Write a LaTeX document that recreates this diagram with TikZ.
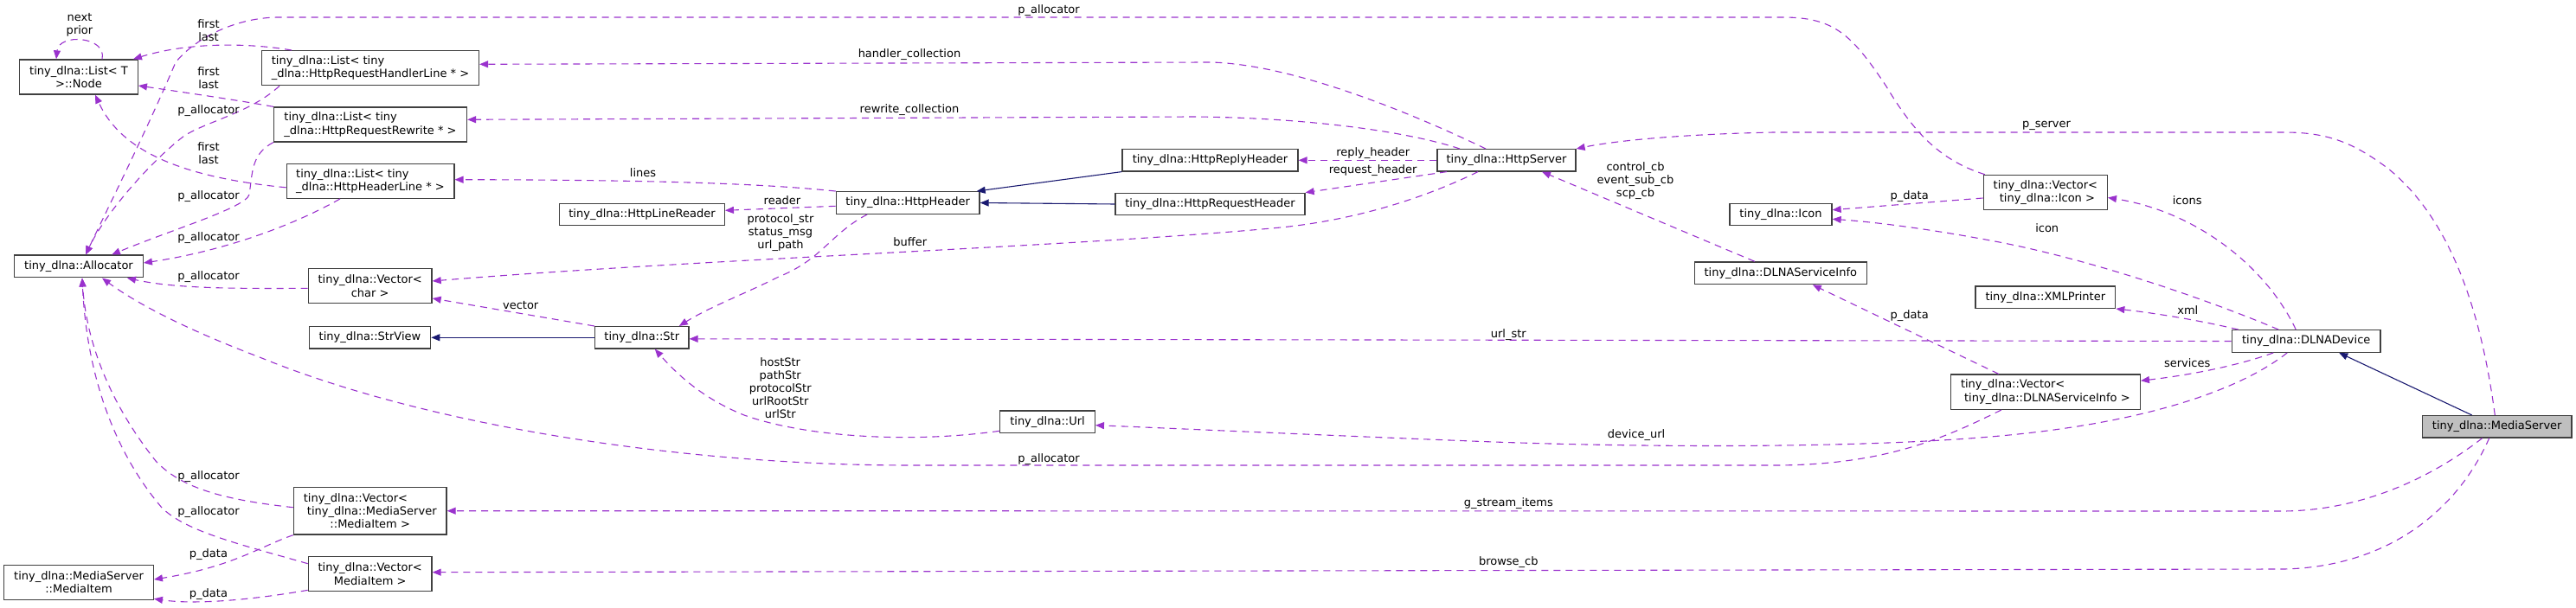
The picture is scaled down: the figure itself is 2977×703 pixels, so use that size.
\documentclass[tikz,border=0pt]{standalone}
\usepackage{fontspec}
\setmainfont{DejaVu Sans}
\usetikzlibrary{arrows.meta}
\definecolor{usec}{HTML}{9A32CD}
\definecolor{inhc}{HTML}{191970}
\definecolor{msfill}{HTML}{BFBFBF}
\begin{document}
\begin{tikzpicture}[x=1pt,y=-1pt,
  cls/.style={draw=black!75, line width=1.3pt, fill=white, inner sep=0pt, align=center, font=\fontsize{13}{15.3}\selectfont},
  lbl/.style={inner sep=0pt, align=center, text=black, font=\fontsize{13}{15}\selectfont},
  usedge/.style={draw=usec, line width=1.1pt, dash pattern=on 8pt off 6pt, -{Triangle[length=10pt,width=8pt]}},
  inhedge/.style={draw=inhc, line width=1.1pt, -{Triangle[length=10pt,width=8pt]}}]
\useasboundingbox (0,0) rectangle (2977,703);
% ---------- classes ----------
\node[cls, minimum width=136.6pt, minimum height=40pt] (node) at (91,89) {tiny\_dlna::List< T\\>::Node};
\node[cls, minimum width=148.6pt, minimum height=25.7pt] (alloc) at (91,308) {tiny\_dlna::Allocator};
\node[cls, align=left, minimum width=251pt, minimum height=40pt] (handler) at (428,78.7) {tiny\_dlna::List< tiny\\\_dlna::HttpRequestHandlerLine * >};
\node[cls, align=left, minimum width=223pt, minimum height=40pt] (rewrite) at (428,144) {tiny\_dlna::List< tiny\\\_dlna::HttpRequestRewrite * >};
\node[cls, align=left, minimum width=193.7pt, minimum height=40pt] (hline) at (428,209.3) {tiny\_dlna::List< tiny\\\_dlna::HttpHeaderLine * >};
\node[cls, minimum width=142.7pt, minimum height=40pt] (vchar) at (427.7,330.7) {tiny\_dlna::Vector<\\char >};
\node[cls, minimum width=140.4pt, minimum height=25.3pt] (strview) at (427.5,390.3) {tiny\_dlna::StrView};
\node[cls, minimum width=176.7pt, minimum height=54.7pt] (vmsitem) at (427.7,590.7) {\rlap{tiny\_dlna::Vector<}\phantom{\mbox{\ tiny\_dlna::MediaServer}}\\\mbox{\ tiny\_dlna::MediaServer}\\::MediaItem >};
\node[cls, minimum width=142.7pt, minimum height=40pt] (vitem) at (427.7,663.7) {tiny\_dlna::Vector<\\MediaItem >};
\node[cls, minimum width=172.6pt, minimum height=40pt] (msitem) at (91,673.3) {tiny\_dlna::MediaServer\\::MediaItem};
\node[cls, minimum width=190.6pt, minimum height=25.4pt] (linereader) at (742,248) {tiny\_dlna::HttpLineReader};
\node[cls, minimum width=165.7pt, minimum height=25.6pt] (httpheader) at (1049.2,234.5) {tiny\_dlna::HttpHeader};
\node[cls, minimum width=108.3pt, minimum height=25.3pt] (str) at (741.8,390.3) {tiny\_dlna::Str};
\node[cls, minimum width=109.6pt, minimum height=25.7pt] (url) at (1210.5,487.8) {tiny\_dlna::Url};
\node[cls, minimum width=203pt, minimum height=25.3pt] (reply) at (1398.5,185.3) {tiny\_dlna::HttpReplyHeader};
\node[cls, minimum width=219pt, minimum height=25.4pt] (request) at (1398.5,236) {tiny\_dlna::HttpRequestHeader};
\node[cls, minimum width=160pt, minimum height=25.3pt] (server) at (1741,185.3) {tiny\_dlna::HttpServer};
\node[cls, minimum width=199pt, minimum height=25.7pt] (svcinfo) at (2057.8,315.8) {tiny\_dlna::DLNAServiceInfo};
\node[cls, minimum width=118pt, minimum height=25.4pt] (icon) at (2058,248) {tiny\_dlna::Icon};
\node[cls, minimum width=143pt, minimum height=40.3pt] (vicon) at (2363.8,222.5) {tiny\_dlna::Vector<\\\mbox{\ tiny\_dlna::Icon >}};
\node[cls, minimum width=161.7pt, minimum height=25.3pt] (xml) at (2363.8,343.7) {tiny\_dlna::XMLPrinter};
\node[cls, align=left, minimum width=219pt, minimum height=40.3pt] (vsvc) at (2363.8,453.2) {tiny\_dlna::Vector<\\\mbox{\ tiny\_dlna::DLNAServiceInfo >}};
\node[cls, minimum width=171.7pt, minimum height=25.6pt] (device) at (2665.2,394.5) {tiny\_dlna::DLNADevice};
\node[cls, fill=msfill, minimum width=172.7pt, minimum height=25.3pt] (mserver) at (2885.7,493.3) {tiny\_dlna::MediaServer};
% ---------- inheritance ----------
\draw[inhedge] (str.west) -- (strview.east);
\draw[inhedge] (reply.south west) -- ([xshift=-4pt]httpheader.north east);
\draw[inhedge] (request.west) -- (httpheader.east);
\draw[inhedge] ([xshift=-29pt]mserver.north) -- ([xshift=38pt]device.south);
% ---------- usage ----------
\draw[usedge] ([xshift=27pt]node.north) .. controls (124,42) and (68,38) .. ([xshift=-26pt]node.north);
\draw[usedge] ([xshift=-91pt]handler.north) .. controls (290,50) and (220,48) .. ([xshift=-6pt]node.north east);
\draw[usedge] (rewrite.north west) .. controls (270,115) and (200,105) .. ([yshift=-10pt]node.east);
\draw[usedge] ([yshift=-7.5pt]hline.west) .. controls (210,205) and (140,175) .. ([xshift=19pt]node.south);
\draw[usedge] ([xshift=-105pt]handler.south) .. controls (290,130) and (240,140) .. (213,157) .. controls (170,190) and (120,250) .. ([xshift=8pt]alloc.north);
\draw[usedge] ([xshift=-70pt]vicon.north) .. controls (2240,185) and (2210,150) .. (2180,100) .. controls (2140,40) and (2120,20) .. (2060,20) -- (320,20) .. controls (270,21) and (225,45) .. (203,72) .. controls (170,150) and (120,250) .. ([xshift=8pt]alloc.north);
\draw[usedge] (rewrite.south west) .. controls (290,178) and (292,200) .. (288,225) .. controls (284,240) and (200,265) .. ([xshift=38pt]alloc.north);
\draw[usedge] ([xshift=-35pt]hline.south) .. controls (340,260) and (260,290) .. ([yshift=4pt]alloc.east);
\draw[usedge] ([yshift=-2.6pt]vchar.west) .. controls (260,334) and (200,333) .. ([xshift=56pt]alloc.south);
\draw[usedge] ([yshift=4pt]vmsitem.west) .. controls (260,578) and (210,565) .. (180,533) .. controls (130,470) and (100,400) .. ([xshift=4pt]alloc.south);
\draw[usedge] ([yshift=12pt]vitem.west) .. controls (280,630) and (215,615) .. (187,587) .. controls (130,520) and (100,430) .. ([xshift=4pt]alloc.south);
\draw[usedge] ([xshift=-51pt]vsvc.south) .. controls (2250,505) and (2180,538) .. (2050,538) -- (1050,538) .. controls (800,538) and (500,495) .. (300,413) .. controls (200,375) and (150,345) .. ([xshift=27pt]alloc.south);
\draw[usedge] (device.west) -- ([yshift=-1.5pt]str.east);
\draw[usedge] ([xshift=-22pt]device.south) .. controls (2590,450) and (2480,490) .. (2300,505) .. controls (2150,518) and (1900,518) .. (1700,510) .. controls (1500,502) and (1350,495) .. ([yshift=-3.9pt]url.east);
\draw[usedge] ([yshift=-10.5pt]url.west) .. controls (1050,513) and (930,505) .. (860,480) .. controls (810,460) and (780,430) .. ([xshift=15pt]str.south);
\draw[usedge] ([xshift=-47pt]httpheader.south) .. controls (960,270) and (950,300) .. (900,320) .. controls (860,340) and (820,355) .. ([xshift=43pt]str.north);
\draw[usedge] ([yshift=-3.8pt]httpheader.west) -- ([yshift=4.7pt]linereader.east);
\draw[usedge] (httpheader.north west) .. controls (880,212) and (750,208) .. ([yshift=1.6pt]hline.east);
\draw[usedge] ([xshift=-24pt]server.north) .. controls (1640,135) and (1500,75) .. (1400,72) -- ([yshift=4.4pt]handler.east);
\draw[usedge] ([xshift=-54pt]server.north) .. controls (1620,150) and (1500,136) .. (1380,135) -- ([yshift=5.7pt]rewrite.east);
\draw[usedge] (server.west) -- (reply.east);
\draw[usedge] ([xshift=-69pt]server.south) -- (request.north east);
\draw[usedge] ([xshift=-33pt]server.south) .. controls (1640,232) and (1560,255) .. (1480,263) .. controls (1250,285) and (800,300) .. ([yshift=5.7pt]vchar.east);
\draw[usedge] (str.north west) -- ([yshift=-14.3pt]vchar.east);
\draw[usedge] ([xshift=-2.4pt]mserver.north) .. controls (2870,380) and (2840,260) .. (2760,195) .. controls (2720,165) and (2690,153) .. (2640,153) -- (2050,153) .. controls (1950,155) and (1870,162) .. (server.north east);
\draw[usedge] ([xshift=-30pt]svcinfo.north) -- ([xshift=41pt]server.south);
\draw[usedge] ([yshift=-6.5pt]vicon.west) -- ([yshift=5.3pt]icon.east);
\draw[usedge] ([xshift=-32pt]device.north) .. controls (2560,350) and (2420,300) .. (2300,278) .. controls (2230,265) and (2170,257) .. ([yshift=-5.3pt]icon.east);
\draw[usedge] ([xshift=-12pt]device.north) .. controls (2620,310) and (2540,245) .. ([yshift=-6pt]vicon.east);
\draw[usedge] ([xshift=8pt]device.north west) .. controls (2540,370) and (2490,362) .. (xml.south east);
\draw[usedge] ([xshift=-38pt]device.south) .. controls (2580,425) and (2520,435) .. ([yshift=13pt]vsvc.east);
\draw[usedge] ([xshift=-54pt]vsvc.north) -- ([xshift=37pt]svcinfo.south);
\draw[usedge] ([xshift=-17pt]mserver.south) .. controls (2800,560) and (2720,590) .. (2640,591) -- (vmsitem.east);
\draw[usedge] ([xshift=-9pt]mserver.south) .. controls (2840,590) and (2760,655) .. (2640,658) -- ([yshift=2pt]vitem.east);
\draw[usedge] (vmsitem.south west) .. controls (300,632) and (270,655) .. ([yshift=3.3pt]msitem.east);
\draw[usedge] ([yshift=2pt]vitem.south west) .. controls (300,692) and (230,700) .. ([yshift=1.6pt]msitem.south east);
% ---------- labels ----------
\node[lbl] (l1) at (92,29) {next\\prior};
\node[lbl] (l2) at (241,35.5) {first\\last};
\node[lbl] (l3) at (241,90.5) {first\\last};
\node[lbl] (l4) at (241,177.3) {first\\last};
\node[lbl] (l5) at (241,127.7) {p\_allocator};
\node[lbl] (l6) at (241,226.7) {p\_allocator};
\node[lbl] (l7) at (241,275.3) {p\_allocator};
\node[lbl] (l8) at (241,320) {p\_allocator};
\node[lbl] (l9) at (1212,11.7) {p\_allocator};
\node[lbl] (l10) at (1212,530.7) {p\_allocator};
\node[lbl] (l11) at (241,550.7) {p\_allocator};
\node[lbl] (l12) at (241,591.7) {p\_allocator};
\node[lbl] (l13) at (241,640.7) {p\_data};
\node[lbl] (l14) at (241,686.7) {p\_data};
\node[lbl] (l15) at (2206.7,226.7) {p\_data};
\node[lbl] (l16) at (2206.7,365) {p\_data};
\node[lbl] (l17) at (1051,63.3) {handler\_collection};
\node[lbl] (l18) at (1051,126.7) {rewrite\_collection};
\node[lbl] (l19) at (743,200) {lines};
\node[lbl] (l20) at (904,231.7) {reader};
\node[lbl] (l21) at (902,269) {protocol\_str\\status\_msg\\url\_path};
\node[lbl] (l22) at (601.7,352.7) {vector};
\node[lbl] (l23) at (1051.7,280) {buffer};
\node[lbl] (l24) at (1586.7,176.7) {reply\_header};
\node[lbl] (l25) at (1586.7,196.7) {request\_header};
\node[lbl] (l26) at (1890,208.7) {control\_cb\\event\_sub\_cb\\scp\_cb};
\node[lbl] (l27) at (901.7,448.8) {hostStr\\pathStr\\protocolStr\\urlRootStr\\urlStr};
\node[lbl] (l28) at (1743.3,386.7) {url\_str};
\node[lbl] (l29) at (1891,503.3) {device\_url};
\node[lbl] (l30) at (1743.3,582.3) {g\_stream\_items};
\node[lbl] (l31) at (1743.3,650) {browse\_cb};
\node[lbl] (l32) at (2365,145) {p\_server};
\node[lbl] (l33) at (2365.7,263.3) {icon};
\node[lbl] (l34) at (2527.7,231.7) {icons};
\node[lbl] (l35) at (2528.3,358.3) {xml};
\node[lbl] (l36) at (2527.7,420) {services};
\end{tikzpicture}
\end{document}
